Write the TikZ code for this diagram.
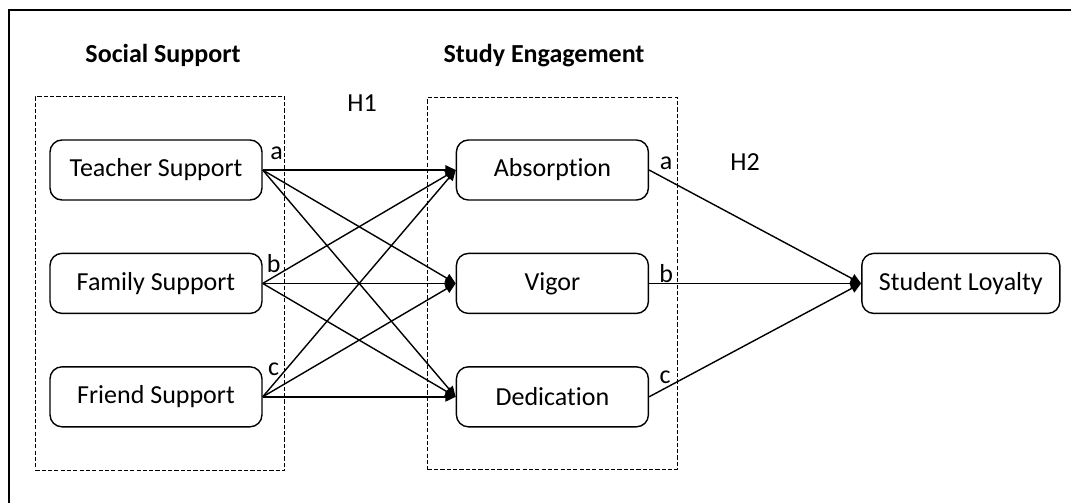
\documentclass[tikz,border=0pt]{standalone}
\usepackage{fontspec}
\setmainfont{Carlito}[Ligatures=NoCommon]
\usetikzlibrary{arrows.meta,positioning,calc,fit}
\tikzset{
    % Rounded boxes
    factor/.style={
        rectangle,
        rounded corners=0.3cm,
        draw=black,
        line width=1pt,
        fill=white,
        minimum width=5.3cm,
        minimum height=1.5cm,
        align=center,
        font=\fontsize{18.5}{22}\selectfont
    },
    factor mid/.style={
        factor,
        minimum width=4.8cm
    },
    factor out/.style={
        factor,
        minimum width=4.95cm
    },
    group box/.style={
        draw=black,
        line width=0.8pt,
        dash pattern=on 3pt off 1.5pt,
        inner sep=0pt
    },
    group title/.style={
        font=\fontsize{18.5}{22}\selectfont\bfseries,
        anchor=base
    },
    hyp/.style={
        font=\fontsize{18.5}{22}\selectfont,
        anchor=base
    },
    path tag/.style={
        font=\fontsize{18.5}{22}\selectfont,
        inner sep=0pt
    },
    arrow/.style={
        -{Triangle[length=2.6mm,width=2.4mm]},
        line width=1pt,
        color=black
    }
}
\begin{document}
\begin{tikzpicture}
        \useasboundingbox (0,0) rectangle (26.775,-12.575);
        % Outer frame (top and left edge in view)
        \draw[line width=2pt] (0.225,-12.575) |- (26.775,-0.25);

        % Social support
        \node[factor] (teacher) at (3.9,-4.25) {Teacher Support};
        \node[factor, below=1.3cm of teacher] (family) {Family Support};
        \node[factor, below=1.3cm of family] (friend) {Friend Support};

        % Study engagement
        \node[factor mid, right=4.825cm of teacher] (absorp) {Absorption};
        \node[factor mid, below=1.3cm of absorp] (vigor) {Vigor};
        \node[factor mid, below=1.3cm of vigor] (dedic) {Dedication};

        % Outcome
        \node[factor out, right=5.3cm of vigor] (loyalty) {Student Loyalty};

        % Group frames
        \node[group box, fit=(teacher)(friend), inner xsep=0.45cm, inner ysep=1.075cm, xshift=0.1cm] (ssbox) {};
        \node[group box, fit=(absorp)(dedic), inner xsep=0.7cm, inner ysep=1.05cm] (sebox) {};

        % Titles and hypotheses
        \node[group title] (sstitle) at (4.075,-1.55) {Social Support};
        \node[group title] (setitle) at (13.6,-1.55) {Study Engagement};
        \node[hyp] (h1) at (9.05,-2.775) {H1};
        \node[hyp] (h2) at (18.625,-4.25) {H2};

        % Path tags
        \node[path tag] (ta) at ($(teacher.east)+(0.35,0.425)$) {a};
        \node[path tag] (fb) at ($(family.east)+(0.275,0.5)$) {b};
        \node[path tag] (rc) at ($(friend.east)+(0.275,0.7)$) {c};
        \node[path tag] (aa) at ($(absorp.east)+(0.425,0.175)$) {a};
        \node[path tag] (vb) at ($(vigor.east)+(0.425,0.25)$) {b};
        \node[path tag] (dc) at ($(dedic.east)+(0.4,0.5)$) {c};

        % Arrows
        \draw[arrow] (teacher.east) -- (absorp.west);
        \draw[arrow] (teacher.east) -- (vigor.west);
        \draw[arrow] (teacher.east) -- (dedic.west);
        \draw[arrow] (family.east) -- (absorp.west);
        \draw[arrow] (family.east) -- (vigor.west);
        \draw[arrow] (family.east) -- (dedic.west);
        \draw[arrow] (friend.east) -- (absorp.west);
        \draw[arrow] (friend.east) -- (vigor.west);
        \draw[arrow] (friend.east) -- (dedic.west);
        \draw[arrow] (absorp.east) -- (loyalty.west);
        \draw[arrow] (vigor.east) -- (loyalty.west);
        \draw[arrow] (dedic.east) -- (loyalty.west);
    \end{tikzpicture}
\end{document}
